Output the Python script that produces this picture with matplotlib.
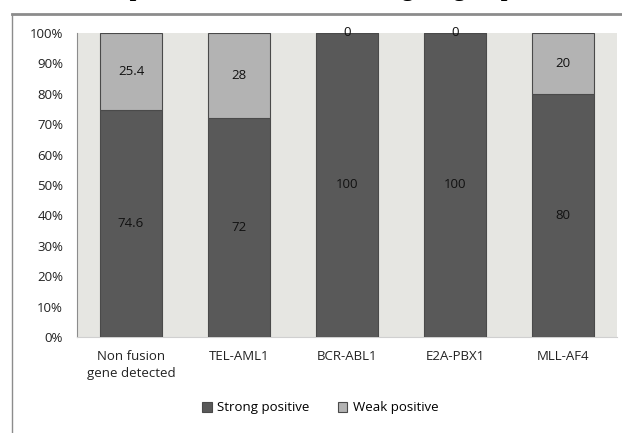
import numpy as np
import matplotlib.pyplot as plt
from matplotlib.lines import Line2D

categories = ["Non fusion\ngene detected", "TEL-AML1", "BCR-ABL1", "E2A-PBX1", "MLL-AF4"]
strong = [74.6, 72, 100, 100, 80]
weak = [25.4, 28, 0, 0, 20]
strong_labels = ["74.6", "72", "100", "100", "80"]
weak_labels = ["25.4", "28", "0", "0", "20"]

plt.rcParams["font.family"] = ["Open Sans", "DejaVu Sans"]

fig = plt.figure(figsize=(6.22, 4.33), dpi=100)
W, H = 622, 433

# title cut off by the crop: only the descenders stay visible
fig.text(102 / W, 1 + 4 / H, "Expression of CD34 in fusion gene groups",
         ha="left", va="baseline", family="Liberation Serif", weight="bold",
         fontsize=17)

# outer chart frame
fig.add_artist(Line2D([12 / W, 1], [1 - 13.5 / H] * 2, color="#8c8c8c", lw=2))
fig.add_artist(Line2D([12 / W, 12 / W], [0, 1 - 13.5 / H], color="#8c8c8c", lw=1))

ax = fig.add_axes([77 / W, 1 - 337 / H, 540 / W, 304 / H])
ax.set_facecolor("#e6e6e2")
x = np.arange(len(categories))
bw = 0.57
b1 = ax.bar(x, strong, bw, color="#595959", edgecolor="#4a4a4a", lw=0.8, zorder=3,
            label="Strong positive")
b2 = ax.bar(x, weak, bw, bottom=strong, color="#b3b3b3", edgecolor="#4a4a4a", lw=0.8,
            zorder=3, label="Weak positive")

for i in range(len(categories)):
    ax.text(x[i], strong[i] / 2, strong_labels[i], ha="center", va="center",
            fontsize=9.5, color="#111111", zorder=4)
    ax.text(x[i], strong[i] + weak[i] / 2, weak_labels[i], ha="center", va="center",
            fontsize=9.5, color="#111111", zorder=4)

ax.set_xlim(-0.5, len(categories) - 0.5)
ax.set_ylim(0, 100)
ax.set_yticks(range(0, 101, 10))
ax.set_yticklabels([f"{v}%" for v in range(0, 101, 10)])
ax.set_xticks(x)
ax.set_xticklabels(categories, linespacing=1.45)
ax.tick_params(axis="both", length=0, labelsize=9.5, colors="#222222")
ax.tick_params(axis="y", pad=10)
ax.tick_params(axis="x", pad=9)
for s in ["top", "right"]:
    ax.spines[s].set_visible(False)
ax.spines["left"].set_color("#8c8c8c")
ax.spines["bottom"].set_color("#d0d0d0")

fig.legend(handles=[b1, b2], loc="center", bbox_to_anchor=(0.515, 1 - 408 / H), ncol=2,
           frameon=False, fontsize=9.5, handlelength=0.7, handleheight=0.7,
           handletextpad=0.4, columnspacing=2.2)

fig.savefig("out.png", dpi=100)
